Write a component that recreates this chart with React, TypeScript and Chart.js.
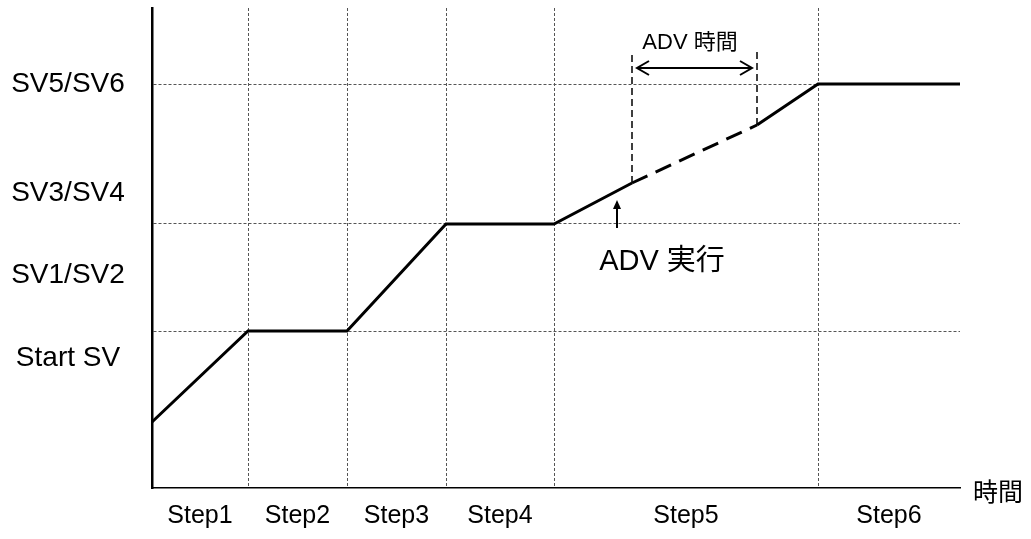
import React, { useEffect, useRef } from "react";
import { Chart, registerables } from "chart.js";

Chart.register(...registerables);

// Step boundaries along the time axis (time units)
const stepBounds = [0, 96, 195, 294, 402, 666, 808];
const stepLabels = ["Step1", "Step2", "Step3", "Step4", "Step5", "Step6"];

// Set-value levels
const startSV = 66;
const sv12 = 157;
const sv34 = 264;
const sv56 = 404;
const gridLevels = [sv12, sv34, sv56];

// Profile line (time, value)
const profileX = [0, 96, 195, 294, 402, 480, 605, 666, 808];
const profileY = [startSV, sv12, sv12, sv34, sv34, 305, 363, sv56, sv56];
const dashedSegmentIndex = 5;

// ADV markers
const advStartX = 480;
const advEndX = 605;
const advStartY = 305;
const advEndY = 363;
const advTopY = 437;
const advArrowY = 420;
const advArrowFrom = 485;
const advArrowTo = 600;
const execArrowX = 465;
const execArrowBottom = 260;
const execArrowTop = 288;

// Texts
const yLabels = ["SV5/SV6", "SV3/SV4", "SV1/SV2", "Start SV"];
const yLabelValues = [404, 295, 213, 130];
const advTimeLabel = "ADV 時間";
const advTimeLabelPos = [538, 445];
const advExecLabel = "ADV 実行";
const advExecLabelPos = [510, 226];
const xAxisTitle = "時間";

const FONT = '"Liberation Sans", Arial, "Noto Sans CJK JP", sans-serif';

const textPlugin = {
  id: "texts",
  afterDraw(chart: any) {
    const ctx = chart.ctx;
    const xs = chart.scales.x;
    const ys = chart.scales.y;
    ctx.save();
    ctx.fillStyle = "#000";
    ctx.textBaseline = "middle";
    ctx.textAlign = "center";

    // y labels
    ctx.font = `28px ${FONT}`;
    yLabels.forEach((t, i) => {
      ctx.fillText(t, xs.left - 84, ys.getPixelForValue(yLabelValues[i]));
    });

    // step labels
    ctx.font = `25px ${FONT}`;
    stepLabels.forEach((t, i) => {
      const c = (stepBounds[i] + stepBounds[i + 1]) / 2;
      ctx.fillText(t, xs.getPixelForValue(c), ys.bottom + 28);
    });

    // x axis title
    ctx.font = `25px ${FONT}`;
    ctx.textAlign = "left";
    ctx.fillText(xAxisTitle, xs.right + 13, ys.bottom + 6);

    // ADV labels
    ctx.textAlign = "center";
    ctx.font = `22px ${FONT}`;
    ctx.fillText(advTimeLabel, xs.getPixelForValue(advTimeLabelPos[0]), ys.getPixelForValue(advTimeLabelPos[1]));
    ctx.font = `29px ${FONT}`;
    ctx.fillText(advExecLabel, xs.getPixelForValue(advExecLabelPos[0]), ys.getPixelForValue(advExecLabelPos[1]));

    // double arrow heads
    ctx.strokeStyle = "#000";
    ctx.lineWidth = 2;
    const ay = ys.getPixelForValue(advArrowY);
    const a1 = xs.getPixelForValue(advArrowFrom);
    const a2 = xs.getPixelForValue(advArrowTo);
    ctx.beginPath();
    ctx.moveTo(a1 + 12, ay - 7);
    ctx.lineTo(a1, ay);
    ctx.lineTo(a1 + 12, ay + 7);
    ctx.moveTo(a2 - 12, ay - 7);
    ctx.lineTo(a2, ay);
    ctx.lineTo(a2 - 12, ay + 7);
    ctx.stroke();

    // exec arrow head
    const ex = xs.getPixelForValue(execArrowX);
    const et = ys.getPixelForValue(execArrowTop);
    ctx.fillStyle = "#000";
    ctx.beginPath();
    ctx.moveTo(ex, et);
    ctx.lineTo(ex - 4, et + 9);
    ctx.lineTo(ex + 4, et + 9);
    ctx.closePath();
    ctx.fill();
    ctx.restore();
  },
};

export default function App() {
  const ref = useRef<HTMLCanvasElement | null>(null);

  useEffect(() => {
    if (!ref.current) return;
    const pts = (xs: number[], ys: number[]) => xs.map((x, i) => ({ x, y: ys[i] }));
    const chart = new Chart(ref.current, {
      type: "line",
      data: {
        datasets: [
          {
            data: pts(profileX, profileY),
            borderColor: "#000",
            borderWidth: 3,
            pointRadius: 0,
            tension: 0,
            segment: {
              borderDash: (c: any) => (c.p0DataIndex === dashedSegmentIndex ? [17, 9] : undefined),
            },
          },
          {
            data: pts([advStartX, advStartX], [advStartY, advTopY]),
            borderColor: "#000",
            borderWidth: 1.5,
            borderDash: [7, 4],
            pointRadius: 0,
          },
          {
            data: pts([advEndX, advEndX], [advEndY, advTopY]),
            borderColor: "#000",
            borderWidth: 1.5,
            borderDash: [7, 4],
            pointRadius: 0,
          },
          {
            data: pts([advArrowFrom, advArrowTo], [advArrowY, advArrowY]),
            borderColor: "#000",
            borderWidth: 2,
            pointRadius: 0,
          },
          {
            data: pts([execArrowX, execArrowX], [execArrowBottom, execArrowTop - 2]),
            borderColor: "#000",
            borderWidth: 2,
            pointRadius: 0,
          },
        ],
      },
      options: {
        animation: false,
        responsive: false,
        maintainAspectRatio: false,
        events: [],
        layout: { padding: { left: 152, right: 71, top: 8, bottom: 51 } },
        plugins: { legend: { display: false }, tooltip: { enabled: false }, title: { display: false } },
        elements: { line: { clip: false } as any },
        scales: {
          x: {
            type: "linear",
            min: stepBounds[0],
            max: stepBounds[stepBounds.length - 1],
            ticks: { display: false },
            afterFit: (s: any) => { s.height = 0; },
            afterBuildTicks: (s: any) => { s.ticks = stepBounds.slice(1, -1).map((v) => ({ value: v })); },
            grid: { color: "#555", lineWidth: 1, drawTicks: false },
            border: { display: true, color: "#000", width: 1.5, dash: [3, 2] },
          },
          y: {
            type: "linear",
            min: 0,
            max: 480,
            ticks: { display: false },
            afterFit: (s: any) => { s.width = 0; },
            afterBuildTicks: (s: any) => { s.ticks = gridLevels.map((v) => ({ value: v })); },
            grid: { color: "#555", lineWidth: 1, drawTicks: false },
            border: { display: true, color: "#000", width: 2.5, dash: [3, 2] },
          },
        },
      },
      plugins: [textPlugin],
    } as any);
    return () => chart.destroy();
  }, []);

  return (
    <div style={{ position: "fixed", left: 0, top: 0, width: 1031, height: 539, background: "#fff" }}>
      <canvas ref={ref} width={1031} height={539} style={{ display: "block" }} />
    </div>
  );
}
